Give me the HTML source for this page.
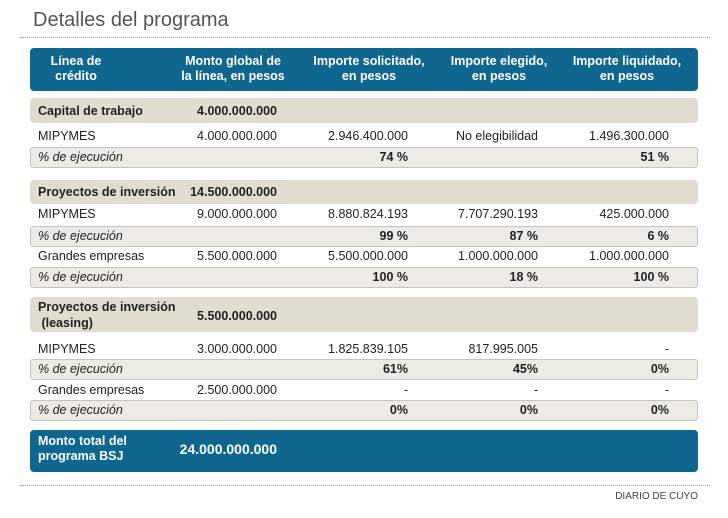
<!DOCTYPE html>
<html><head><meta charset="utf-8"><style>
body{margin:0;width:728px;height:518px;background:#fff;position:relative;font-family:"Liberation Sans",Arial,sans-serif;color:#222;overflow:hidden}
div{position:absolute;white-space:nowrap}
.t{font-size:12.5px;line-height:14px}
.b{font-weight:bold}
.i{font-style:italic}
.sec{left:30px;width:668px;background:#e0ddd0;border-radius:4px}
.pct{left:30px;width:666px;background:#ecebe5;border:1px solid #c4c4c4;border-radius:3px;height:19px}
.r2{right:451px}.r3{right:320px}.r4{right:190px}.r5{right:59px}
.hd{color:#fff;font-weight:bold;font-size:12.5px;line-height:15px;text-align:center;transform:translateX(-50%)}
.dot{left:20px;width:690px;border-top:1px dotted #999;height:0}
</style></head><body>
<div style="left:33px;top:9px;font-size:20px;color:#555">Detalles del programa</div>
<div class="dot" style="top:37px"></div>
<div style="left:30px;top:48px;width:668px;height:43px;background:#0f6790;border-radius:4px"></div>
<div class="hd" style="left:76px;top:54px">Línea de<br>crédito</div>
<div class="hd" style="left:233px;top:54px">Monto global de<br>la línea, en pesos</div>
<div class="hd" style="left:369px;top:54px">Importe solicitado,<br>en pesos</div>
<div class="hd" style="left:499px;top:54px">Importe elegido,<br>en pesos</div>
<div class="hd" style="left:627px;top:54px">Importe liquidado,<br>en pesos</div>

<div class="sec" style="top:98px;height:25px"></div>
<div class="t b" style="left:38px;top:104px">Capital de trabajo</div>
<div class="t b r2" style="top:104px">4.000.000.000</div>
<div class="t" style="left:38px;top:129px">MIPYMES</div>
<div class="t r2" style="top:129px">4.000.000.000</div>
<div class="t r3" style="top:129px">2.946.400.000</div>
<div class="t r4" style="top:129px">No elegibilidad</div>
<div class="t r5" style="top:129px">1.496.300.000</div>
<div class="pct" style="top:147px"></div>
<div class="t i" style="left:38px;top:150px">% de ejecución</div>
<div class="t b r3" style="top:150px">74 %</div>
<div class="t b r5" style="top:150px">51 %</div>

<div class="sec" style="top:180px;height:24px"></div>
<div class="t b" style="left:38px;top:185px">Proyectos de inversión</div>
<div class="t b r2" style="top:185px">14.500.000.000</div>
<div class="t" style="left:38px;top:207px">MIPYMES</div>
<div class="t r2" style="top:207px">9.000.000.000</div>
<div class="t r3" style="top:207px">8.880.824.193</div>
<div class="t r4" style="top:207px">7.707.290.193</div>
<div class="t r5" style="top:207px">425.000.000</div>
<div class="pct" style="top:226px"></div>
<div class="t i" style="left:38px;top:229px">% de ejecución</div>
<div class="t b r3" style="top:229px">99 %</div>
<div class="t b r4" style="top:229px">87 %</div>
<div class="t b r5" style="top:229px">6 %</div>
<div class="t" style="left:38px;top:249px">Grandes empresas</div>
<div class="t r2" style="top:249px">5.500.000.000</div>
<div class="t r3" style="top:249px">5.500.000.000</div>
<div class="t r4" style="top:249px">1.000.000.000</div>
<div class="t r5" style="top:249px">1.000.000.000</div>
<div class="pct" style="top:267px"></div>
<div class="t i" style="left:38px;top:270px">% de ejecución</div>
<div class="t b r3" style="top:270px">100 %</div>
<div class="t b r4" style="top:270px">18 %</div>
<div class="t b r5" style="top:270px">100 %</div>

<div class="sec" style="top:297px;height:35px"></div>
<div class="t b" style="left:38px;top:299px;line-height:16px">Proyectos de inversión<br>&nbsp;(leasing)</div>
<div class="t b r2" style="top:309px">5.500.000.000</div>
<div class="t" style="left:38px;top:342px">MIPYMES</div>
<div class="t r2" style="top:342px">3.000.000.000</div>
<div class="t r3" style="top:342px">1.825.839.105</div>
<div class="t r4" style="top:342px">817.995.005</div>
<div class="t r5" style="top:342px">-</div>
<div class="pct" style="top:359px"></div>
<div class="t i" style="left:38px;top:362px">% de ejecución</div>
<div class="t b r3" style="top:362px">61%</div>
<div class="t b r4" style="top:362px">45%</div>
<div class="t b r5" style="top:362px">0%</div>
<div class="t" style="left:38px;top:383px">Grandes empresas</div>
<div class="t r2" style="top:383px">2.500.000.000</div>
<div class="t r3" style="top:383px">-</div>
<div class="t r4" style="top:383px">-</div>
<div class="t r5" style="top:383px">-</div>
<div class="pct" style="top:400px"></div>
<div class="t i" style="left:38px;top:403px">% de ejecución</div>
<div class="t b r3" style="top:403px">0%</div>
<div class="t b r4" style="top:403px">0%</div>
<div class="t b r5" style="top:403px">0%</div>

<div style="left:30px;top:430px;width:668px;height:42px;background:#0f6790;border-radius:4px"></div>
<div class="b" style="left:38px;top:434px;color:#fff;font-size:12.5px;line-height:15px">Monto total del<br>programa BSJ</div>
<div class="b r2" style="top:441px;color:#fff;font-size:14px">24.000.000.000</div>
<div class="dot" style="top:485px"></div>
<div style="right:30px;top:491px;font-size:10px;color:#444">DIARIO DE CUYO</div>
</body></html>
